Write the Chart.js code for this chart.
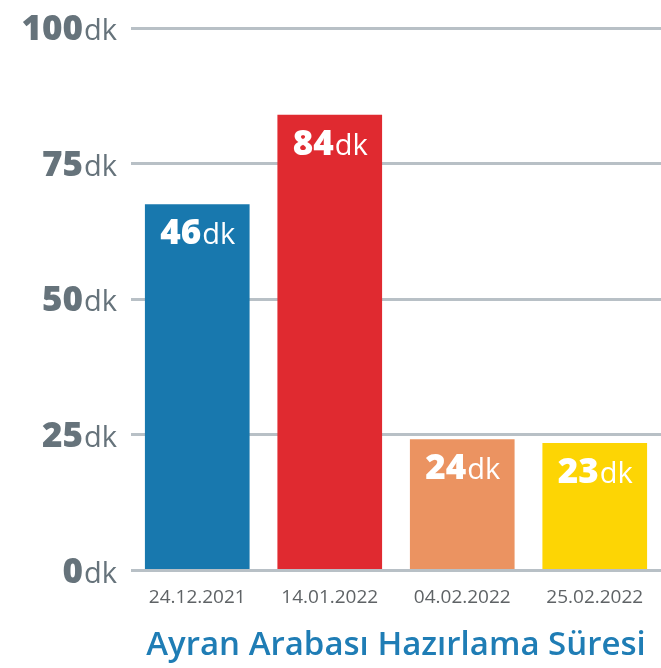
<!DOCTYPE html>
<html>
<head>
<meta charset="utf-8">
<script src="https://cdn.jsdelivr.net/npm/chart.js@4/dist/chart.umd.min.js"></script>
<style>
  html, body { margin: 0; padding: 0; background: #fff; }
  #wrap { width: 661px; height: 668px; }
</style>
</head>
<body>
<div id="wrap"><canvas id="chart"></canvas></div>
<script>
const categories = ['24.12.2021', '14.01.2022', '04.02.2022', '25.02.2022'];
// bar heights as drawn in the picture
const barValues = [67.5, 84, 24.2, 23.5];
// numbers printed on the bars
const barLabels = [46, 84, 24, 23];
const barColors = ['#1878ae', '#e02a30', '#eb9361', '#fdd504'];
const yTicks = [0, 25, 50, 75, 100];
const unit = 'dk';
const chartTitle = 'Ayran Arabası Hazırlama Süresi';

const FONT = '"Open Sans", "Noto Sans", sans-serif';

// number in bold + unit in regular, like "46dk"
function drawMixed(ctx, num, x, y, align, color) {
  ctx.save();
  ctx.fillStyle = color;
  ctx.textBaseline = 'alphabetic';
  const boldFont = '800 35px ' + FONT;
  const regFont = '29px ' + FONT;
  ctx.font = boldFont;
  const w1 = ctx.measureText(num).width;
  ctx.font = regFont;
  const w2 = ctx.measureText(unit).width;
  let start = x;
  if (align === 'center') start = x - (w1 + w2) / 2;
  if (align === 'right') start = x - (w1 + w2);
  ctx.textAlign = 'left';
  ctx.font = boldFont;
  ctx.fillText(num, start, y);
  ctx.font = regFont;
  ctx.fillText(unit, start + w1 + 1, y);
  ctx.restore();
}

const labelPlugin = {
  id: 'labels',
  afterDraw(chart) {
    const ctx = chart.ctx;
    const yScale = chart.scales.y;
    yTicks.forEach(v => {
      drawMixed(ctx, String(v), 116, yScale.getPixelForValue(v) + 12, 'right', '#66737b');
    });
    const meta = chart.getDatasetMeta(0);
    meta.data.forEach((bar, i) => {
      drawMixed(ctx, String(barLabels[i]), bar.x, bar.y + 40, 'center', '#ffffff');
    });
  }
};

new Chart(document.getElementById('chart'), {
  type: 'bar',
  data: {
    labels: categories,
    datasets: [{
      data: barValues,
      backgroundColor: barColors,
      borderWidth: 0,
      barPercentage: 0.79,
      categoryPercentage: 1.0
    }]
  },
  options: {
    responsive: true,
    maintainAspectRatio: false,
    animation: false,
    layout: { padding: { left: 131, top: 28, right: 0, bottom: 3 } },
    plugins: {
      legend: { display: false },
      tooltip: { enabled: false }
    },
    scales: {
      x: {
        grid: { display: false },
        border: { display: false },
        ticks: {
          color: '#5f6366',
          font: { family: FONT, size: 19, weight: '500' },
          padding: 8
        },
        title: {
          display: true,
          text: chartTitle,
          color: '#1f7db5',
          font: { family: FONT, size: 33, weight: '600' },
          padding: { top: 8, bottom: 0 }
        }
      },
      y: {
        min: 0,
        max: 100,
        afterBuildTicks(scale) {
          scale.ticks = yTicks.map(v => ({ value: v }));
        },
        ticks: { display: false },
        border: { display: false },
        grid: { color: '#b8c0c6', lineWidth: 3, drawTicks: false }
      }
    }
  },
  plugins: [labelPlugin]
});
</script>
</body>
</html>
